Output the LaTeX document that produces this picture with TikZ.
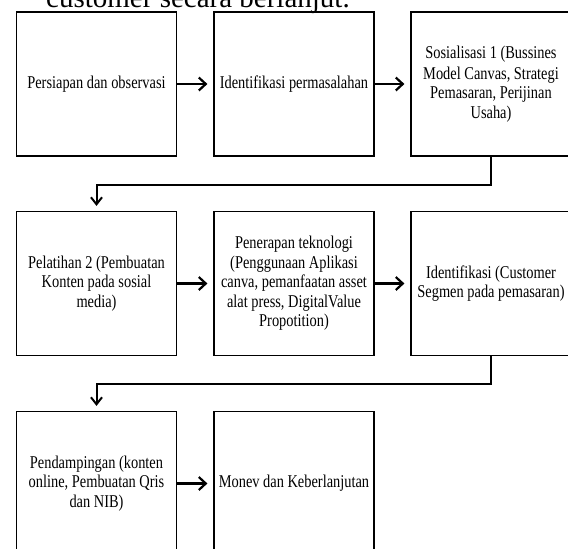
\documentclass[tikz,border=0pt]{standalone}
\usepackage{fontspec}
\setmainfont{Liberation Serif}
\newfontfamily\narrowserif[FakeStretch=0.8]{Liberation Serif}
\usetikzlibrary{arrows.meta}
\tikzset{
  stepbox/.style={draw=black, line width=1.2pt, rectangle, minimum width=160pt, minimum height=144pt,
    inner sep=0pt, align=center, font=\narrowserif\fontsize{18}{19.5}\selectfont},
  harrow/.style={line width=2.2pt, -{Straight Barb[length=7pt,width=13pt]}},
  elbow/.style={line width=2pt, -{Straight Barb[length=7pt,width=11pt]}}
}
\begin{document}
\begin{tikzpicture}[x=1pt,y=-1pt]
\useasboundingbox (0,0) rectangle (568,549);
\clip (0,0) rectangle (568,549);
\node[anchor=base west, inner sep=0pt, font=\fontsize{29}{32}\selectfont] (title) at (46,7) {customer secara berlanjut.};
% row 1
\node[stepbox] (b1) at (96.5,84) {Persiapan dan observasi};
\node[stepbox] (b2) at (294,84) {Identifikasi permasalahan};
\node[stepbox] (b3) at (491,84) {Sosialisasi 1 (Bussines\\[1pt]Model Canvas, Strategi\\Pemasaran, Perijinan\\Usaha)};
% row 2
\node[stepbox] (b4) at (96.5,283.5) {Pelatihan 2 (Pembuatan\\Konten pada sosial\\media)};
\node[stepbox] (b5) at (294,283.5) {Penerapan teknologi\\(Penggunaan Aplikasi\\canva, pemanfaatan asset\\alat press, DigitalValue\\Propotition)};
\node[stepbox] (b6) at (491,283.5) {Identifikasi (Customer\\Segmen pada pemasaran)};
% row 3
\node[stepbox] (b7) at (96.5,483.5) {Pendampingan (konten\\online, Pembuatan Qris\\dan NIB)};
\node[stepbox] (b8) at (294,483.5) {Monev dan Keberlanjutan};
% horizontal arrows
\draw[harrow] (b1.east) -- ([xshift=-6pt]b2.west);
\draw[harrow] (b2.east) -- ([xshift=-6pt]b3.west);
\draw[harrow] (b4.east) -- ([xshift=-6pt]b5.west);
\draw[harrow] (b5.east) -- ([xshift=-6pt]b6.west);
\draw[harrow] (b7.east) -- ([xshift=-6pt]b8.west);
% elbow connectors
\draw[elbow] (b3.south) -- ++(0,28) -| ([yshift=5pt]b4.north);
\draw[elbow] (b6.south) -- ++(0,28) -| ([yshift=5pt]b7.north);
\end{tikzpicture}
\end{document}
